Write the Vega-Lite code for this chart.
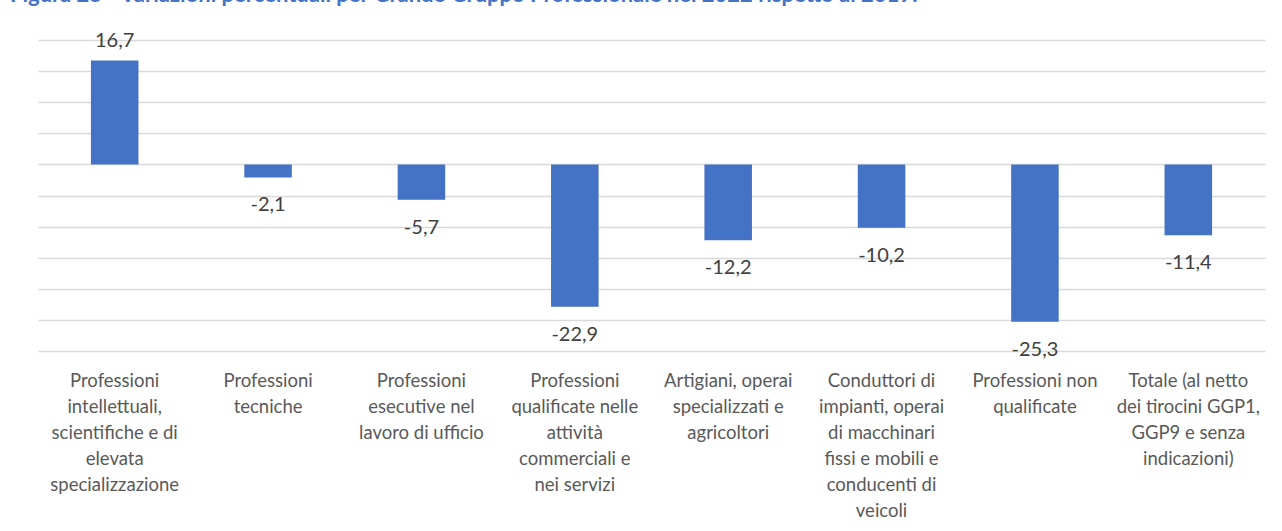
{
  "$schema": "https://vega.github.io/schema/vega-lite/v6.json",
  "width": 1227,
  "height": 311,
  "autosize": "none",
  "padding": {"left": 38, "top": 40, "right": 17, "bottom": 180},
  "title": {
    "text": "Figura 25 - Variazioni percentuali per Grande Gruppo Professionale nel 2022 rispetto al 2019.",
    "anchor": "start",
    "frame": "group",
    "orient": "top",
    "baseline": "alphabetic",
    "offset": 7,
    "dx": -28,
    "font": "Lato",
    "fontSize": 22,
    "fontWeight": "bold",
    "color": "#4472C4"
  },
  "config": {
    "locale": {"number": {"decimal": ",", "thousands": ".", "grouping": [3], "currency": ["€", ""], "minus": "-"}},
    "view": {"stroke": null},
    "font": "Lato"
  },
  "data": {
    "values": [
      {"gruppo": "Professioni|intellettuali,|scientifiche e di|elevata|specializzazione", "variazione": 16.7},
      {"gruppo": "Professioni|tecniche", "variazione": -2.1},
      {"gruppo": "Professioni|esecutive nel|lavoro di ufficio", "variazione": -5.7},
      {"gruppo": "Professioni|qualificate nelle|attività|commerciali e|nei servizi", "variazione": -22.9},
      {"gruppo": "Artigiani, operai|specializzati e|agricoltori", "variazione": -12.2},
      {"gruppo": "Conduttori di|impianti, operai|di macchinari|fissi e mobili e|conducenti di|veicoli", "variazione": -10.2},
      {"gruppo": "Professioni non|qualificate", "variazione": -25.3},
      {"gruppo": "Totale (al netto|dei tirocini GGP1,|GGP9 e senza|indicazioni)", "variazione": -11.4}
    ]
  },
  "encoding": {
    "x": {
      "field": "gruppo",
      "type": "nominal",
      "sort": null,
      "scale": {"paddingInner": 0.69, "paddingOuter": 0.345},
      "axis": {
        "title": null,
        "domain": false,
        "ticks": false,
        "labelAngle": 0,
        "labelPadding": 20,
        "labelFontSize": 18.5,
        "labelColor": "#595959",
        "labelLineHeight": 26,
        "labelBaseline": "top",
        "labelLimit": 0,
        "labelOverlap": false,
        "labelExpr": "split(datum.label, '|')"
      }
    },
    "y": {
      "field": "variazione",
      "type": "quantitative",
      "scale": {"domain": [-30, 20], "nice": false, "zero": true},
      "axis": {
        "title": null,
        "labels": false,
        "ticks": false,
        "domain": false,
        "values": [-30, -25, -20, -15, -10, -5, 0, 5, 10, 15, 20],
        "grid": true,
        "gridColor": "#d9d9d9",
        "gridWidth": 1.5
      }
    }
  },
  "layer": [
    {"mark": {"type": "bar", "color": "#4472C4"}},
    {
      "transform": [{"filter": "datum.variazione >= 0"}],
      "mark": {"type": "text", "baseline": "middle", "dy": -20, "fontSize": 20, "color": "#404040"},
      "encoding": {"text": {"field": "variazione", "type": "quantitative", "format": ".1f"}}
    },
    {
      "transform": [{"filter": "datum.variazione < 0"}],
      "mark": {"type": "text", "baseline": "middle", "dy": 28, "fontSize": 20, "color": "#404040"},
      "encoding": {"text": {"field": "variazione", "type": "quantitative", "format": ".1f"}}
    }
  ]
}
